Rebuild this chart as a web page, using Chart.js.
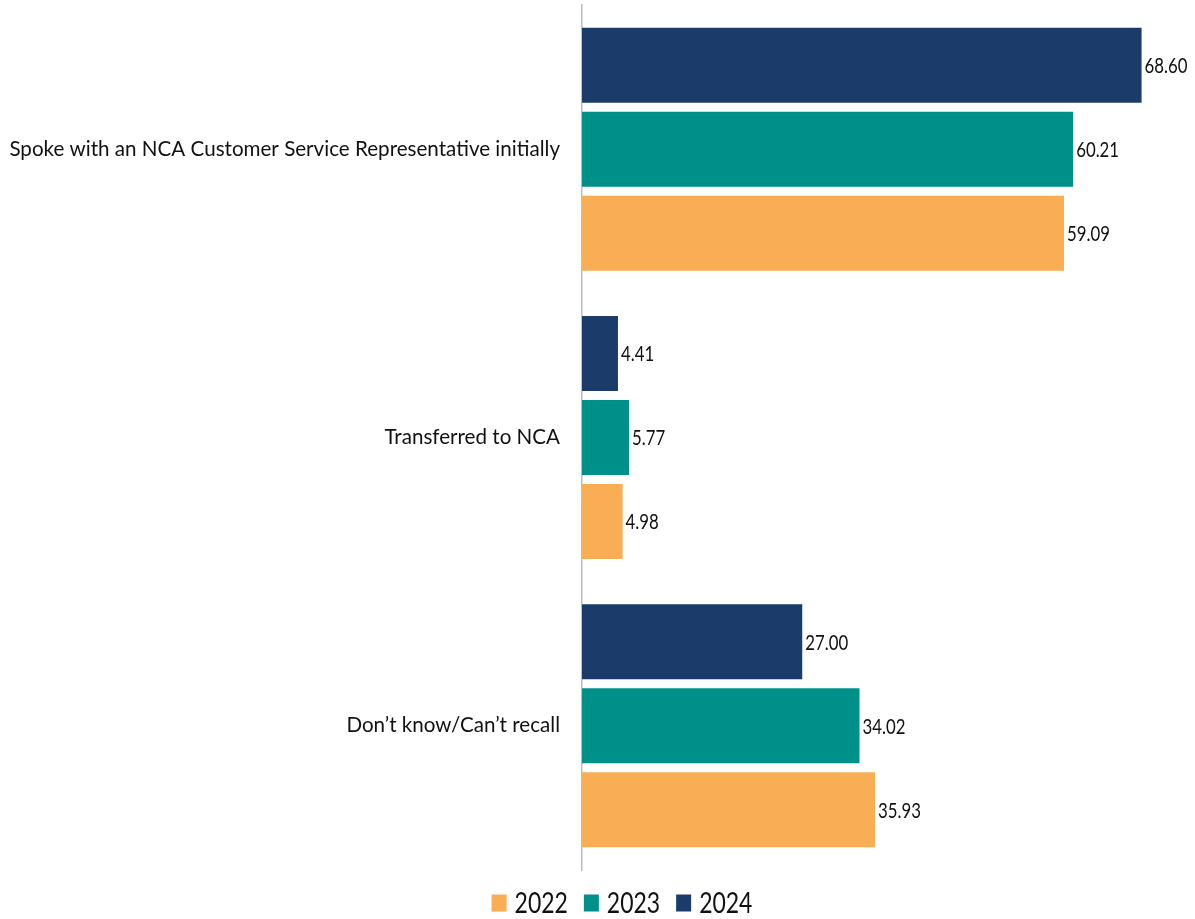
<!DOCTYPE html>
<html>
<head>
<meta charset="utf-8">
<script src="https://cdn.jsdelivr.net/npm/chart.js@4"></script>
<style>
  html, body { margin: 0; padding: 0; background: #ffffff; }
  #wrap { width: 1195px; height: 919px; position: relative; }
</style>
</head>
<body>
<div id="wrap"><canvas id="chart"></canvas></div>
<script>
// How customers first reached NCA, share of respondents (%) by survey year
const categories = [
  'Spoke with an NCA Customer Service Representative initially',
  'Transferred to NCA',
  'Don\u2019t know/Can\u2019t recall'
];
const values2024 = [68.60, 4.41, 27.00];
const values2023 = [60.21, 5.77, 34.02];
const values2022 = [59.09, 4.98, 35.93];

const FONT = 'Lato, "Open Sans", sans-serif';
const TEXT = '#111111';

// Draws text squeezed horizontally so it reads like a condensed face
function condensedText(ctx, text, x, y, squeeze) {
  ctx.save();
  ctx.translate(x, y);
  ctx.scale(squeeze, 1);
  ctx.fillText(text, 0, 0);
  ctx.restore();
}

// Writes each bar's value just past the end of the bar
const valueLabels = {
  id: 'valueLabels',
  afterDatasetsDraw(chart) {
    const ctx = chart.ctx;
    ctx.save();
    ctx.font = '21px ' + FONT;
    ctx.fillStyle = TEXT;
    ctx.textAlign = 'left';
    ctx.textBaseline = 'middle';
    chart.data.datasets.forEach((ds, i) => {
      const meta = chart.getDatasetMeta(i);
      meta.data.forEach((bar, j) => {
        condensedText(ctx, ds.data[j].toFixed(2), bar.x + 3, bar.y + 1, 0.8);
      });
    });
    ctx.restore();
  }
};

// Legend row under the plot: years in ascending order, square swatch + label
const yearLegend = {
  id: 'yearLegend',
  afterDraw(chart) {
    const ctx = chart.ctx;
    const squeeze = 0.82;
    const items = chart.data.datasets
      .map(ds => ({ text: ds.label, color: ds.backgroundColor }))
      .reverse();
    const boxW = 15, boxH = 17, gapBox = 8, gapItem = 16;
    ctx.save();
    ctx.font = '28px ' + FONT;
    ctx.textAlign = 'left';
    ctx.textBaseline = 'middle';
    const widths = items.map(it => ctx.measureText(it.text).width * squeeze);
    const total = widths.reduce((s, w) => s + boxW + gapBox + w, 0) + gapItem * (items.length - 1);
    const cx = 622;
    const cy = 903;
    let x = cx - total / 2;
    items.forEach((it, i) => {
      ctx.fillStyle = it.color;
      ctx.fillRect(x, cy - boxH / 2, boxW, boxH);
      x += boxW + gapBox;
      ctx.fillStyle = TEXT;
      condensedText(ctx, it.text, x, cy + 1, squeeze);
      x += widths[i] + gapItem;
    });
    ctx.restore();
  }
};

new Chart(document.getElementById('chart'), {
  type: 'bar',
  data: {
    labels: categories,
    datasets: [
      { label: '2024', data: values2024, backgroundColor: '#1b3c6b' },
      { label: '2023', data: values2023, backgroundColor: '#00908a' },
      { label: '2022', data: values2022, backgroundColor: '#f9ae55' }
    ]
  },
  options: {
    indexAxis: 'y',
    responsive: true,
    maintainAspectRatio: false,
    animation: false,
    categoryPercentage: 0.874,
    barPercentage: 0.893,
    layout: { padding: { top: 5, right: 42, left: 0, bottom: 49 } },
    scales: {
      x: {
        display: false,
        min: 0,
        max: 70
      },
      y: {
        grid: { display: false, drawTicks: false },
        border: { display: true, color: '#bdbdbd', width: 1.5 },
        ticks: {
          color: TEXT,
          font: { family: FONT, size: 20.6 },
          padding: 22
        },
        afterFit(scale) {
          scale.width = 582;
          scale.paddingTop = 0;
          scale.paddingBottom = 0;
        }
      }
    },
    plugins: {
      tooltip: { enabled: false },
      legend: { display: false }
    }
  },
  plugins: [valueLabels, yearLegend]
});
</script>
</body>
</html>
